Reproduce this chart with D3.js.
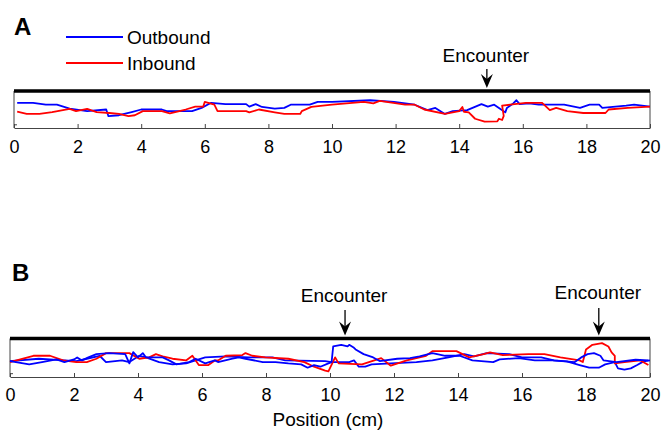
<!DOCTYPE html>
<html>
<head>
<meta charset="utf-8">
<script src="https://cdn.jsdelivr.net/npm/d3@7"></script>
<style>
  body { margin: 0; background: #fff; }
  svg { display: block; font-family: "Liberation Sans", Arial, sans-serif; }
</style>
</head>
<body>
<svg id="chart" width="662" height="430"></svg>
<script>
// ---------- data ----------
const xTicks = [0, 2, 4, 6, 8, 10, 12, 14, 16, 18, 20];
const seriesNames = ["Outbound", "Inbound"];
const seriesColors = ["#0000ff", "#ff0000"];

// Panel A: [position (cm), lateral position]
const outboundA = [[0.1,0.79],[0.6,0.79],[1.0,0.73],[1.35,0.73],[1.75,0.61],[2.3,0.53],[2.9,0.58],[2.97,0.37],[3.3,0.40],[3.7,0.50],[4.0,0.58],[4.65,0.58],[4.8,0.53],[5.6,0.53],[5.9,0.63],[6.2,0.79],[6.65,0.75],[7.3,0.75],[7.4,0.67],[7.6,0.75],[7.8,0.66],[8.2,0.61],[8.5,0.63],[8.7,0.73],[9.3,0.73],[9.55,0.82],[10,0.82],[11.2,0.87],[11.95,0.82],[12.6,0.73],[13.0,0.56],[13.25,0.63],[13.55,0.44],[13.8,0.53],[14.25,0.56],[14.7,0.75],[14.9,0.67],[15.1,0.73],[15.25,0.63],[15.45,0.49],[15.5,0.63],[15.7,0.77],[15.8,0.87],[15.9,0.75],[16.2,0.77],[16.5,0.73],[17.3,0.73],[17.8,0.63],[18.1,0.73],[18.4,0.73],[18.5,0.63],[19.25,0.70],[19.5,0.73],[20,0.67]];
const inboundA = [[0.1,0.51],[0.4,0.44],[0.8,0.44],[1.2,0.50],[1.75,0.60],[1.95,0.53],[2.3,0.60],[2.6,0.50],[3.0,0.47],[3.3,0.44],[3.6,0.37],[3.8,0.40],[4.05,0.53],[4.65,0.53],[4.9,0.46],[5.4,0.58],[5.7,0.67],[5.95,0.67],[6.0,0.82],[6.3,0.73],[6.4,0.53],[7.3,0.53],[7.4,0.49],[7.7,0.58],[8.2,0.49],[8.5,0.44],[9.0,0.44],[9.05,0.53],[9.35,0.66],[10,0.73],[11.0,0.82],[11.3,0.77],[11.5,0.85],[12.3,0.73],[12.6,0.73],[12.9,0.58],[13.55,0.44],[14.0,0.53],[14.1,0.66],[14.15,0.51],[14.3,0.49],[14.5,0.29],[14.8,0.20],[15.2,0.21],[15.25,0.29],[15.35,0.25],[15.4,0.38],[15.35,0.70],[15.6,0.73],[16.1,0.79],[16.6,0.79],[16.65,0.75],[16.85,0.56],[17.05,0.63],[17.4,0.53],[17.9,0.47],[18.6,0.47],[18.7,0.58],[19.3,0.63],[20,0.67]];
const encountersA = [14.87];

// Panel B
const outboundB1 = [[0,0.48],[0.6,0.38],[1.0,0.45],[1.45,0.53],[1.7,0.45],[2.0,0.53],[2.1,0.59],[2.25,0.50],[2.45,0.59],[2.7,0.69],[3.1,0.72],[3.6,0.69],[3.73,0.41],[3.85,0.75],[4.0,0.59],[4.15,0.72],[4.25,0.59],[4.77,0.59],[4.97,0.50],[5.2,0.38],[5.6,0.45],[5.8,0.55],[6.1,0.41],[6.4,0.50],[6.5,0.45],[6.95,0.55],[7.15,0.59],[7.36,0.55],[7.9,0.45],[8.3,0.45],[8.7,0.41],[9.1,0.38],[9.3,0.28],[9.5,0.36],[9.7,0.31],[9.95,0.41],[10.05,0.45],[10.1,0.92],[10.35,0.97],[10.55,0.92],[10.6,0.97],[10.75,0.88],[10.8,0.83],[11.05,0.69],[11.35,0.59],[11.55,0.48],[12.1,0.55],[12.5,0.57],[12.8,0.62],[13.2,0.72],[13.6,0.64],[14.05,0.64],[14.45,0.50],[15.1,0.45],[15.3,0.53],[15.9,0.57],[16.4,0.50],[16.95,0.50],[17.35,0.47],[17.65,0.45],[17.85,0.59],[18.05,0.69],[18.25,0.72],[18.45,0.64],[18.55,0.50],[18.95,0.45],[19.55,0.52],[19.95,0.50]];
const outboundB2 = [[0,0.48],[0.9,0.55],[1.7,0.50],[2.07,0.48],[2.4,0.55],[2.8,0.64],[3.0,0.45],[3.5,0.50],[3.73,0.45],[4.04,0.64],[4.25,0.59],[4.66,0.45],[5.08,0.38],[5.5,0.41],[6.1,0.59],[6.74,0.62],[7.46,0.59],[8.2,0.59],[8.6,0.50],[9.85,0.48],[10.05,0.45],[10.6,0.45],[10.75,0.50],[10.9,0.31],[11.1,0.31],[11.3,0.38],[11.9,0.41],[12.7,0.45],[13.2,0.50],[13.7,0.59],[14.2,0.69],[14.5,0.62],[14.9,0.72],[15.6,0.69],[16.0,0.59],[16.6,0.59],[17.0,0.50],[17.4,0.47],[17.8,0.36],[18.1,0.28],[18.4,0.28],[18.6,0.38],[18.9,0.45],[19.0,0.26],[19.2,0.22],[19.4,0.26],[19.6,0.36],[19.8,0.47],[20,0.50]];
const inboundB = [[0,0.45],[0.73,0.64],[1.25,0.64],[1.66,0.50],[2.07,0.45],[2.4,0.45],[2.7,0.55],[3.0,0.72],[3.73,0.72],[4.04,0.55],[4.35,0.59],[4.56,0.69],[4.77,0.62],[5.08,0.55],[5.5,0.50],[5.7,0.64],[5.9,0.36],[6.2,0.36],[6.4,0.50],[6.5,0.50],[6.74,0.64],[7.26,0.66],[7.36,0.72],[7.57,0.64],[7.98,0.59],[8.7,0.55],[9.2,0.45],[9.5,0.31],[9.85,0.19],[9.95,0.17],[10.16,0.59],[10.27,0.41],[11.0,0.38],[11.6,0.57],[11.9,0.34],[12.4,0.50],[12.8,0.59],[13.0,0.64],[13.2,0.78],[13.95,0.78],[14.35,0.59],[14.8,0.69],[15.0,0.74],[15.4,0.66],[16.2,0.69],[16.7,0.69],[17.2,0.59],[17.8,0.50],[17.9,0.45],[18.0,0.83],[18.2,0.97],[18.5,1.02],[18.7,0.92],[18.8,0.74],[18.9,0.64],[18.9,0.41],[19.2,0.45],[19.7,0.50],[19.95,0.36]];
const encountersB = [10.47, 18.4];

const wallLevel = 1.16;

// ---------- drawing ----------
const svg = d3.select("#chart");
const font = 19;
const tickFont = 18;

function panel(opts) {
  const x = d3.scaleLinear().domain([0, 20]).range([opts.left, opts.right]);
  const y = d3.scaleLinear().domain([0, wallLevel]).range([opts.bottom, opts.wall]);
  const g = svg.append("g");

  // left and right frame lines
  g.append("line").attr("x1", x(0)).attr("x2", x(0)).attr("y1", y(wallLevel)).attr("y2", y(0))
    .attr("stroke", "#444").attr("stroke-width", 1);
  g.append("line").attr("x1", x(20)).attr("x2", x(20)).attr("y1", y(wallLevel)).attr("y2", y(0))
    .attr("stroke", "#444").attr("stroke-width", 1);
  // small left tick
  g.append("line").attr("x1", x(0)).attr("x2", x(0) + 3).attr("y1", y(0.1)).attr("y2", y(0.1))
    .attr("stroke", "#444").attr("stroke-width", 1);

  // bottom axis
  const ax = g.append("g").attr("transform", `translate(0,${opts.bottom})`)
    .call(d3.axisBottom(x).tickValues(xTicks).tickFormat(d3.format("d"))
      .tickSizeInner(-4).tickSizeOuter(0).tickPadding(opts.pad));
  ax.select(".domain").attr("stroke", "#444");
  ax.selectAll(".tick line").attr("stroke", "#444");
  ax.selectAll(".tick text").attr("font-size", tickFont).attr("fill", "#000")
    .attr("font-family", '"Liberation Sans", Arial, sans-serif');

  // data lines
  const line = d3.line().x(d => x(d[0])).y(d => y(d[1]));
  opts.series.forEach(s => {
    g.append("path").datum(s.data).attr("d", line)
      .attr("fill", "none").attr("stroke", s.color).attr("stroke-width", 1.8)
      .attr("stroke-linejoin", "round");
  });

  // wall (thick top line)
  g.append("line").attr("x1", x(0)).attr("x2", x(20)).attr("y1", y(wallLevel)).attr("y2", y(wallLevel))
    .attr("stroke", "#000").attr("stroke-width", 3.5);

  // encounter arrows
  opts.encounters.forEach((e, i) => {
    const ax0 = x(e);
    const tip = y(wallLevel) - 3;
    const top = opts.arrowTop[i];
    g.append("line").attr("x1", ax0).attr("x2", ax0).attr("y1", top).attr("y2", tip - 6)
      .attr("stroke", "#000").attr("stroke-width", 1.3);
    g.append("path")
      .attr("d", `M${ax0},${tip} L${ax0 - 6},${tip - 14} L${ax0},${tip - 9} L${ax0 + 6},${tip - 14} Z`)
      .attr("fill", "#000");
    g.append("text").attr("x", ax0 - 1).attr("y", opts.textY[i]).attr("text-anchor", "middle")
      .attr("font-size", font).text("Encounter");
  });

  // panel letter
  g.append("text").attr("x", opts.letterX).attr("y", opts.letterY).attr("font-size", 24)
    .attr("font-weight", "bold").text(opts.letter);
  return {x, y};
}

panel({
  left: 14, right: 650, wall: 91, bottom: 128, pad: 12,
  series: [
    {data: outboundA, color: seriesColors[0]},
    {data: inboundA, color: seriesColors[1]}
  ],
  encounters: encountersA, arrowTop: [69], textY: [62],
  letter: "A", letterX: 14, letterY: 35
});

panel({
  left: 10, right: 650, wall: 338.5, bottom: 377, pad: 11,
  series: [
    {data: outboundB2, color: seriesColors[0]},
    {data: inboundB, color: seriesColors[1]},
    {data: outboundB1, color: seriesColors[0]}
  ],
  encounters: encountersB, arrowTop: [310, 308], textY: [302, 299],
  letter: "B", letterX: 12, letterY: 281
});

// legend
const legend = svg.append("g");
const legY = [37, 63];
seriesNames.forEach((n, i) => {
  legend.append("line").attr("x1", 66).attr("x2", 123).attr("y1", legY[i]).attr("y2", legY[i])
    .attr("stroke", seriesColors[i]).attr("stroke-width", 2);
  legend.append("text").attr("x", 127).attr("y", legY[i] + 6.5).attr("font-size", font).text(n);
});

// x label
svg.append("text").attr("x", 328).attr("y", 426).attr("text-anchor", "middle")
  .attr("font-size", font).text("Position (cm)");
</script>
</body>
</html>
